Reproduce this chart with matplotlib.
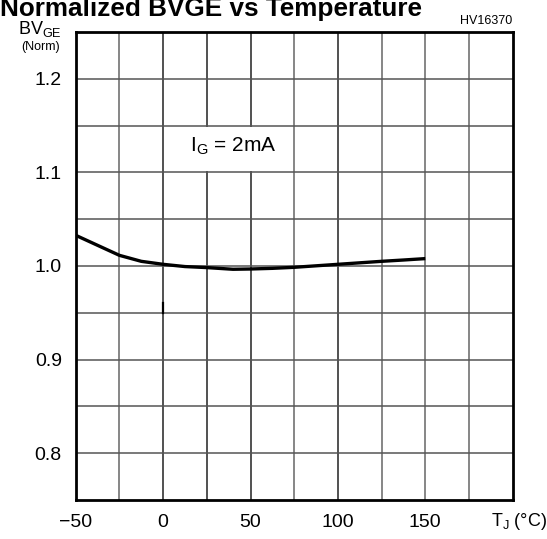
import matplotlib
matplotlib.use("Agg")
import matplotlib.pyplot as plt
from matplotlib.patches import Rectangle

# Data
temp = [-50, -37.5, -25, -12.5, 0, 12.5, 25, 37.5, 40, 50, 62.5, 75, 87.5, 100, 112.5, 125, 137.5, 150]
bv_norm = [1.0328, 1.0221, 1.0114, 1.005, 1.0018, 0.9994, 0.9983, 0.9968, 0.9965, 0.9968,
           0.9975, 0.9986, 1.0002, 1.0018, 1.0034, 1.005, 1.0064, 1.0079]
xticks = [-50, 0, 50, 100, 150]
xtick_labels = ["\u221250", "0", "50", "100", "150"]
yticks = [0.8, 0.9, 1.0, 1.1, 1.2]
ytick_labels = ["0.8", "0.9", "1.0", "1.1", "1.2"]

plt.rcParams['font.family'] = ['Liberation Sans', 'DejaVu Sans']

fig = plt.figure(figsize=(5.47, 5.39), dpi=100)
ax = fig.add_axes([75.7/547, 1 - 500/539, (512.7 - 75.7)/547, (500 - 32)/539])
ax.set_xlim(-50, 200)
ax.set_ylim(0.75, 1.25)

# grid
for gx in range(-25, 200, 25):
    col = '#222222' if gx in (0, 25, 50, 100) else '#666666'
    ax.axvline(gx, color=col, lw=1.1, zorder=1)
for k in range(1, 10):
    gy = 0.75 + 0.05 * k
    ax.axhline(gy, color='#555555', lw=1.1, zorder=1)

# white label cell
ax.add_patch(Rectangle((0.8, 1.1015), 73.4, 0.047, facecolor='white', edgecolor='none', zorder=1.5))
ax.text(40, 1.128, "I$_\\mathregular{G}$ = 2mA", fontsize=15, ha='center', va='center', zorder=4)

ax.plot(temp, bv_norm, color='black', lw=2.4, solid_capstyle='butt', zorder=3)
# small artifact segment
ax.plot([0, 0], [0.961, 0.95], color='black', lw=1.6, zorder=2)

for s in ax.spines.values():
    s.set_linewidth(2.0)
    s.set_zorder(5)

ax.set_xticks(xticks)
ax.set_xticklabels(xtick_labels, fontsize=14)
ax.set_yticks(yticks)
ax.set_yticklabels(ytick_labels, fontsize=14)
ax.tick_params(length=0, pad=10)

fig.text(1, 1 - 522/539, "T$_\\mathregular{J}$ (\u00b0C)", fontsize=13, ha='right', va='center')
fig.text(40/547, 1 - 29/539, "BV$_\\mathregular{GE}$", fontsize=13, ha='center', va='center')
fig.text(41/547, 1 - 47/539, "(Norm)", fontsize=9, ha='center', va='center')
fig.text(512/547, 1 - 21/539, "HV16370", fontsize=9, ha='right', va='center')
fig.text(0, 1 - 16/539, "Normalized BVGE vs Temperature", fontsize=18.8, fontweight='bold',
         ha='left', va='baseline')

fig.savefig("out.png", dpi=100)
